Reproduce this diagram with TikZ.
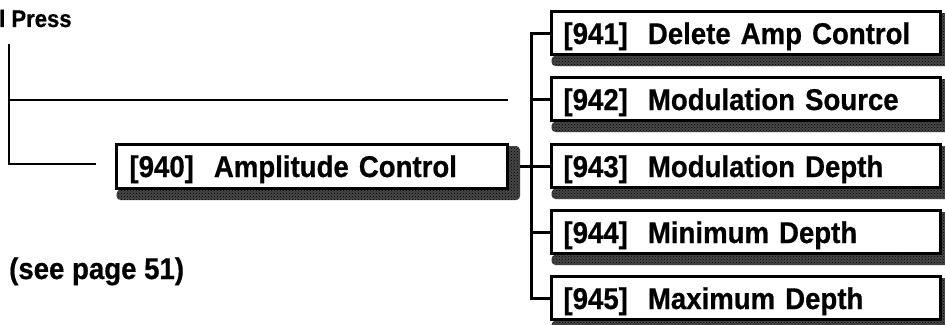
\documentclass[tikz,border=0pt]{standalone}
\usepackage{fontspec}
\newfontfamily\hv[FakeStretch=0.92,FakeBold=0.6]{Liberation Sans}
\usetikzlibrary{patterns}
\begin{document}
\begin{tikzpicture}[x=1pt,y=-1pt,
  boxtext/.style={font=\hv\fontsize{30}{32}\selectfont\bfseries},
  menubox/.style={draw, line width=3pt, fill=white, anchor=north west, align=left,
    inner ysep=0pt, inner xsep=12pt, text height=32.5pt, text depth=10.5pt, boxtext},
  shadowfill/.style={fill=black!72, postaction={pattern=crosshatch dots}, rounded corners=4pt},
  treeline/.style={line width=3pt},
  thinline/.style={line width=2pt},
  plain/.style={font=\hv\fontsize{30}{32}\selectfont\bfseries, inner sep=0pt}
]
\useasboundingbox (0,0) rectangle (945,324);

% free-end coordinates of the left lines
\coordinate (vtop) at (9,44);
\coordinate (vmid) at (9,100);
\coordinate (lend) at (508,100);
\coordinate (hend) at (96,164);

% boxes (named here; redrawn on top later)
\node[menubox, text width=365pt, text depth=11.5pt, inner xsep=13pt] (b940) at (115,143) {[940]\hspace{20pt}Amplitude Control};
\node[menubox, text width=365pt] (b941) at (550,10) {[941]\hspace{20pt}Delete Amp Control};
\node[menubox, text width=365pt] (b942) at (550,76) {[942]\hspace{20pt}Modulation Source};
\node[menubox, text width=365pt] (b943) at (550,143) {[943]\hspace{20pt}Modulation Depth};
\node[menubox, text width=365pt] (b944) at (550,209) {[944]\hspace{20pt}Minimum Depth};
\node[menubox, text width=365pt] (b945) at (550,275) {[945]\hspace{20pt}Maximum Depth};

% connectors
\draw[thinline] (vtop) |- (hend);
\draw[thinline] (vmid) -- (lend);
\draw[treeline] (b941.west) -- ++(-19,0) |- (b945.west);
\draw[treeline] (b942.west) -- ++(-19,0);
\draw[treeline] (b944.west) -- ++(-19,0);
\draw[treeline] (b940.east) -- (b940.east -| b943.west);

% shadows
\foreach \b in {b940,b941,b942,b943,b944,b945}{
  \fill[shadowfill] ([xshift=1.5pt]\b.south west) -- ++(0,10)
     -- ([xshift=11pt,yshift=-10pt]\b.south east)
     -- ([xshift=11pt,yshift=-3pt]\b.north east)
     -- ([yshift=-3pt]\b.north east) -- cycle;
}

% boxes redrawn on top of shadows and lines
\node[menubox, text width=365pt, text depth=11.5pt, inner xsep=13pt] at (115,143) {[940]\hspace{20pt}Amplitude Control};
\node[menubox, text width=365pt] at (550,10) {[941]\hspace{20pt}Delete Amp Control};
\node[menubox, text width=365pt] at (550,76) {[942]\hspace{20pt}Modulation Source};
\node[menubox, text width=365pt] at (550,143) {[943]\hspace{20pt}Modulation Depth};
\node[menubox, text width=365pt] at (550,209) {[944]\hspace{20pt}Minimum Depth};
\node[menubox, text width=365pt] at (550,275) {[945]\hspace{20pt}Maximum Depth};

% free texts
\node[plain, font=\hv\fontsize{24}{26}\selectfont\bfseries, anchor=base west] (press) at (-1,27) {l Press};
\node[plain, anchor=base west] (seepage) at (9,279) {(see page 51)};
\end{tikzpicture}
\end{document}
